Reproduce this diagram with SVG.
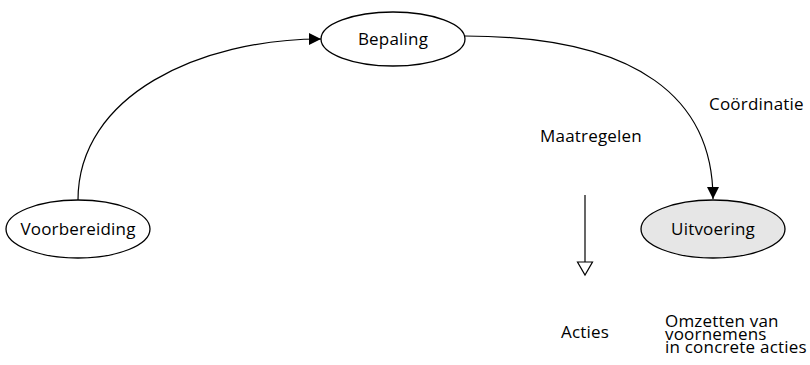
<svg xmlns="http://www.w3.org/2000/svg" width="810" height="365" viewBox="0 0 810 365">
  <defs>
    <marker id="arrow-solid" markerWidth="12" markerHeight="12" refX="12" refY="6" orient="auto" markerUnits="userSpaceOnUse">
      <path d="M0,0 L12,6 L0,12 Z" fill="#000"/>
    </marker>
  </defs>
  <style>
    text { font-family: "Open Sans", "Noto Sans", sans-serif; font-size: 17px; letter-spacing: 0.2px; fill: #000; }
    .node ellipse { stroke: #000; stroke-width: 1.3; fill: #fff; }
    .node.active ellipse { fill: #e6e6e6; }
    .node text { text-anchor: middle; }
    .conn { fill: none; stroke: #000; stroke-width: 1.2; }
  </style>
  <rect width="810" height="365" fill="#fff"/>

  <g id="connectors">
    <path class="conn" d="M78,200 C78,95 200,39 321,39" marker-end="url(#arrow-solid)"/>
    <path class="conn" d="M465,36 C640,36 713,100 713,199" marker-end="url(#arrow-solid)"/>
    <line class="conn" x1="585" y1="195" x2="585" y2="262"/>
    <path d="M577.5,262 L592.5,262 L585,275 Z" fill="#fff" stroke="#000" stroke-width="1.2"/>
  </g>

  <g id="bepaling" class="node">
    <ellipse cx="393" cy="39" rx="72" ry="27"/>
    <text x="393" y="45">Bepaling</text>
  </g>
  <g id="voorbereiding" class="node">
    <ellipse cx="78" cy="229" rx="72" ry="29"/>
    <text x="78" y="235">Voorbereiding</text>
  </g>
  <g id="uitvoering" class="node active">
    <ellipse cx="713" cy="229" rx="72" ry="29"/>
    <text x="713" y="235">Uitvoering</text>
  </g>

  <g id="labels">
    <text x="709" y="110">Coördinatie</text>
    <text x="540" y="142">Maatregelen</text>
    <text x="585" y="338" text-anchor="middle">Acties</text>
    <text x="665" y="327">Omzetten van</text>
    <text x="665" y="340">voornemens</text>
    <text x="665" y="353">in concrete acties</text>
  </g>
</svg>
